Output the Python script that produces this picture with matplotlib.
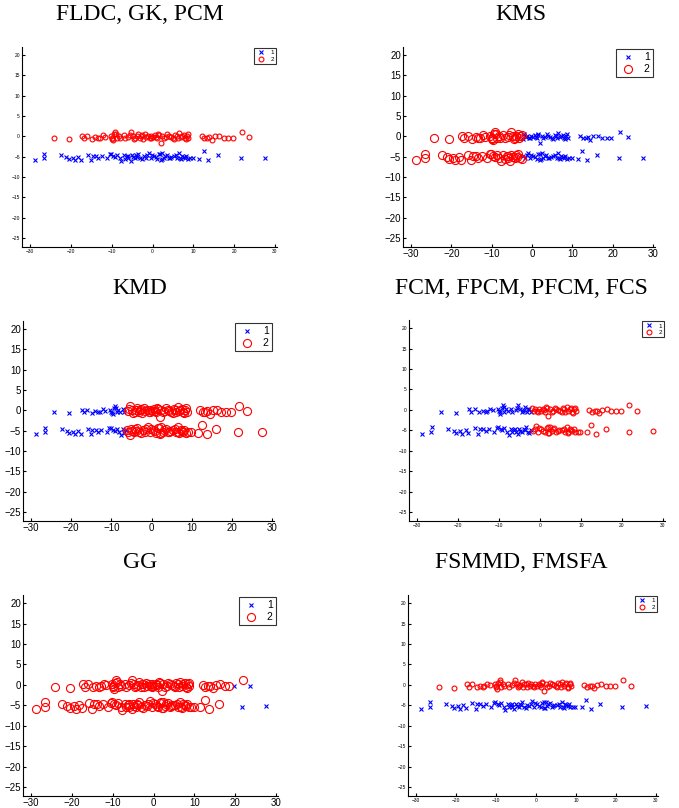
import numpy as np
import matplotlib
matplotlib.use("Agg")
import matplotlib.pyplot as plt

# points of the upper strip (y ~ 0)
up_x = [-24.2, -20.5, -17.3, -16.8, -16.0, -14.8, -14.0, -13.3, -12.9, -12.2, -11.6,
        -10.0, -9.7, -9.4, -9.1, -8.7, -8.3, -7.9, -7.1, -5.9, -5.3, -4.8, -4.2,
        -3.6, -3.2, -2.6, -2.3, -1.5, -1.2, -0.7, -0.3, 0.2, 0.7, 1.2, 1.6, 2.0,
        2.4, 3.2, 4.0, 4.9, 5.3, 5.9, 6.5, 6.9, 7.6, 7.9, 8.4, 8.8, 12.0, 12.7,
        13.4, 13.9, 14.5, 15.2, 16.3, 17.4, 18.5, 19.7, 21.8, 23.7,
        -10.3, -9.9, -8.9, -6.8, -5.6, -4.5, -3.9, -2.9, -1.9, -0.5, 0.9, 1.4,
        2.8, 3.6, 4.4, 5.6, 6.2, 7.2, 8.1, 8.6]
up_y = [-0.5, -0.7, 0.1, -0.4, 0.2, -0.6, -0.2, -0.5, -0.3, 0.3, -0.1,
        -0.3, -1.0, 0.5, 1.2, -0.5, 0.2, -0.3, 0.3, -0.1, 1.1, 0.2, -0.3,
        0.6, -0.5, 0.3, -0.6, -0.2, 0.2, -0.3, 0.1, -0.2, 0.3, -0.5, 0.4, -1.5,
        0.2, -0.2, 0.1, -0.3, -0.6, 0.2, 0.8, -0.2, 0.4, -0.5, 0.2, -0.3, 0.0, -0.5,
        -0.3, -0.2, -0.8, 0.0, 0.2, -0.3, -0.3, -0.3, 1.1, -0.2,
        0.1, -0.6, 0.6, -0.4, 0.4, -0.6, 0.0, 0.2, 0.5, -0.4, -0.1, 0.6,
        -0.4, 0.5, -0.1, 0.4, -0.5, 0.1, -0.7, 0.5]

# points of the lower strip (y ~ -5)
lo_x = [-28.8, -26.6, -26.5, -22.4, -21.1, -20.5, -19.5, -19.0, -18.2, -17.6, -15.9,
        -15.1, -14.7, -13.9, -13.3, -12.5, -11.2, -10.2, -9.6, -8.7, -8.1, -7.7,
        -7.1, -6.3, -5.9, -5.4, -4.8, -4.0, -3.5, -3.0, -2.6, -1.7, -1.3, -0.9,
        -0.5, 0.3, 1.2, 1.6, 2.0, 2.4, 2.8, 3.5, 4.0, 4.6, 5.3, 6.1, 6.5, 6.9,
        7.3, 7.9, 8.6, 9.2, 9.8, 11.5, 12.5, 13.7, 16.0, 21.6, 27.6,
        -10.5, -9.2, -6.8, -6.0, -5.1, -4.3, -3.8, -2.2, -0.2, 0.8, 1.9, 2.2,
        3.1, 4.3, 5.8, 6.7, 7.6, 8.2]
lo_y = [-5.9, -5.3, -4.3, -4.6, -5.1, -5.6, -5.2, -5.9, -5.0, -5.7, -4.5,
        -5.9, -4.7, -4.8, -5.2, -4.7, -5.3, -4.2, -4.7, -4.5, -5.3, -6.1,
        -4.6, -4.9, -5.3, -6.0, -5.1, -4.6, -4.3, -5.3, -5.6, -5.2, -4.6, -4.0,
        -5.3, -4.8, -5.5, -4.4, -5.7, -4.1, -5.2, -4.5, -5.4, -5.0, -4.9, -5.3, -4.1, -5.6,
        -4.7, -5.2, -5.5, -5.3, -5.4, -5.5, -3.7, -5.8, -4.6, -5.4, -5.2,
        -4.4, -5.0, -5.5, -4.8, -4.6, -5.4, -5.0, -4.9, -4.5, -5.1, -4.3, -5.6,
        -4.7, -5.2, -4.6, -5.4, -5.0, -4.8]

titles = ["FLDC, GK, PCM", "KMS", "KMD", "FCM, FPCM, PFCM, FCS", "GG", "FSMMD, FMSFA"]
# how the points are split between cluster 1 and cluster 2 in each panel
rules = ["rows", ("right", -2.4), ("left", -6.0), ("left", -2.0), "gg", "rows"]
gg_one = [(19.7, -0.3), (23.7, -0.2), (21.6, -5.4), (27.6, -5.2)]
small = [True, False, False, True, False, True]

# axes boxes in pixels: left, top, right, bottom
boxes = [(22, 47, 277, 247), (403, 47, 655, 247),
         (23, 321, 274, 521), (409, 320, 665, 521),
         (23, 595, 278, 796), (408, 595, 658, 796)]
title_pos = [(140, 15), (521, 15), (140, 288), (521, 288), (140, 563), (521, 563)]

W, H = 679, 808
fig = plt.figure(figsize=(W / 100, H / 100), dpi=100)

ax_all = np.array(up_x + lo_x)
ay_all = np.array(up_y + lo_y)
is_up = np.array([True] * len(up_x) + [False] * len(lo_x))

for i in range(6):
    l, t, r, b = boxes[i]
    ax = fig.add_axes([l / W, 1 - b / H, (r - l) / W, (b - t) / H])
    rule = rules[i]
    if rule == "rows":
        one = ~is_up
    elif rule == "gg":
        one = np.array([(x, y) in gg_one for x, y in zip(ax_all, ay_all)])
    elif rule[0] == "right":
        one = ax_all > rule[1]
    else:
        one = ax_all < rule[1]
    two = ~one

    if small[i]:
        ms_o, ms_x, fs, lfs = 3.5, 2.3, 3.5, 4.5
    else:
        ms_o, ms_x, fs, lfs = 5.8, 2.8, 7, 7.5
    ax.plot(ax_all[one], ay_all[one], "x", color="#0000ff", ms=ms_x, mew=0.8, label="1")
    ax.plot(ax_all[two], ay_all[two], "o", color="#ff0000", mfc="none", ms=ms_o,
            mew=0.8, label="2")
    ax.set_xlim(-32, 30.5)
    ax.set_ylim(-27.2, 22)
    ax.set_xticks(np.arange(-30, 31, 10))
    ax.set_yticks(np.arange(-25, 21, 5))
    ax.spines["top"].set_visible(False)
    ax.spines["right"].set_visible(False)
    ax.tick_params(direction="in", length=2, labelsize=fs, pad=1.5)
    for lab in ax.get_xticklabels() + ax.get_yticklabels():
        lab.set_family("Liberation Sans")
    leg = ax.legend(loc="upper right", frameon=True, fancybox=False,
                    borderpad=0.3, handletextpad=0.6, handlelength=1.8,
                    labelspacing=0.2, borderaxespad=0.2,
                    prop={"family": "Liberation Sans", "size": lfs})
    leg.get_frame().set_edgecolor("black")
    leg.get_frame().set_linewidth(0.8)

    tx, ty = title_pos[i]
    fig.text(tx / W, 1 - ty / H, titles[i], ha="center", va="center",
             family="Liberation Serif", fontsize=17)

fig.savefig("out.png", dpi=100)
